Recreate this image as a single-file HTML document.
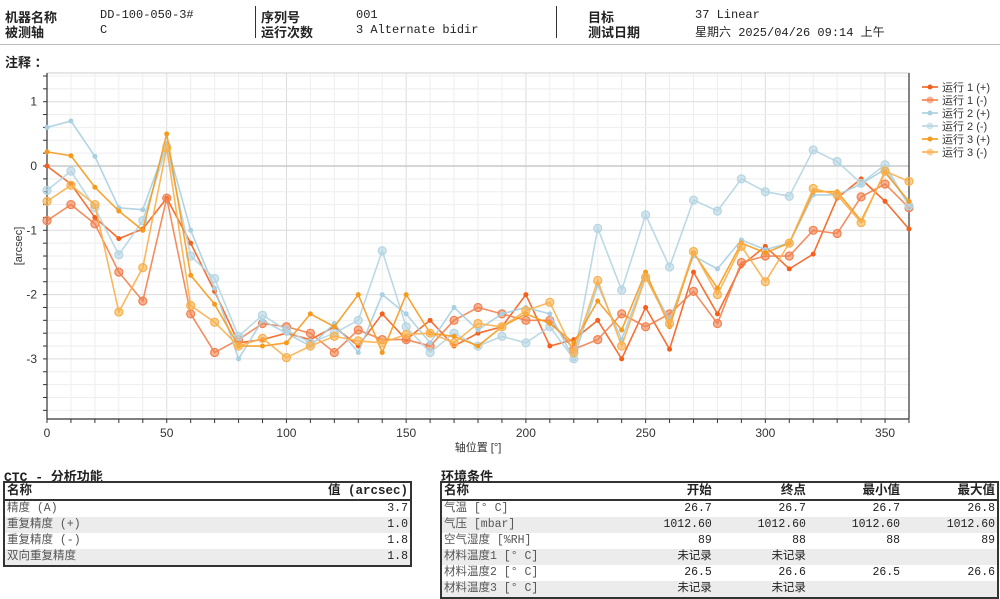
<!DOCTYPE html>
<html><head><meta charset="utf-8"><style>
body{margin:0;width:1000px;height:599px;background:#fff;font-family:"Liberation Mono","Noto Sans CJK SC",monospace;font-size:12px;color:#222;position:relative;overflow:hidden}
.a{position:absolute;white-space:nowrap}
.b{font-family:"Liberation Sans","Noto Sans CJK SC",sans-serif;font-weight:bold;font-size:13px}
table{position:absolute;border-collapse:collapse;border:2px solid #333;font-size:11.5px}
td{padding:0 2px;height:16px;line-height:16px}
td.r{text-align:right}
tr.h td{font-family:"Liberation Mono","Noto Sans CJK SC",monospace;font-weight:bold;border-bottom:2px solid #333;height:15px;font-size:12.5px}
tr.g td{background:#ececec}
tr.d td{color:#555}
table td.r,table tr.d td.r{color:#222}
</style></head><body>
<div class="a b" style="left:5px;top:7px">机器名称</div>
<div class="a" style="left:100px;top:8px">DD-100-050-3#</div>
<div class="a b" style="left:5px;top:22px">被测轴</div>
<div class="a" style="left:100px;top:23px">C</div>
<div class="a" style="left:255px;top:6px;width:1px;height:32px;background:#333"></div>
<div class="a b" style="left:261px;top:7px">序列号</div>
<div class="a" style="left:356px;top:8px">001</div>
<div class="a b" style="left:261px;top:22px">运行次数</div>
<div class="a" style="left:356px;top:23px">3 Alternate bidir</div>
<div class="a" style="left:556px;top:6px;width:1px;height:32px;background:#333"></div>
<div class="a b" style="left:588px;top:7px">目标</div>
<div class="a" style="left:695px;top:8px">37 Linear</div>
<div class="a b" style="left:588px;top:22px">测试日期</div>
<div class="a" style="left:695px;top:23px">星期六 2025/04/26 09:14 上午</div>
<div class="a" style="left:0;top:44px;width:1000px;height:1px;background:#bbb"></div>
<div class="a b" style="left:5px;top:52px">注释 ：</div>

<svg id="chart" class="a" style="left:0;top:60px" width="1000" height="400" viewBox="0 60 1000 400"></svg>

<div class="a b" style="left:4px;top:466px;font-family:'Liberation Mono','Noto Sans CJK SC',monospace">CTC - 分析功能</div>
<table style="left:3px;top:481px;width:409px">
<tr class="h"><td>名称</td><td class="r">值 (arcsec)</td></tr>
<tr class="d"><td>精度 (A)</td><td class="r">3.7</td></tr>
<tr class="d g"><td>重复精度 (+)</td><td class="r">1.0</td></tr>
<tr class="d"><td>重复精度 (-)</td><td class="r">1.8</td></tr>
<tr class="d g"><td>双向重复精度</td><td class="r">1.8</td></tr>
</table>
<div class="a b" style="left:441px;top:466px">环境条件</div>
<table style="left:440px;top:481px;width:559px">
<tr class="h"><td>名称</td><td class="r">开始</td><td class="r">终点</td><td class="r">最小值</td><td class="r">最大值</td></tr>
<tr class="d"><td>气温 [° C]</td><td class="r">26.7</td><td class="r">26.7</td><td class="r">26.7</td><td class="r">26.8</td></tr>
<tr class="d g"><td>气压 [mbar]</td><td class="r">1012.60</td><td class="r">1012.60</td><td class="r">1012.60</td><td class="r">1012.60</td></tr>
<tr class="d"><td>空气湿度 [%RH]</td><td class="r">89</td><td class="r">88</td><td class="r">88</td><td class="r">89</td></tr>
<tr class="d g"><td>材料温度1 [° C]</td><td class="r">未记录</td><td class="r">未记录</td><td></td><td></td></tr>
<tr class="d"><td>材料温度2 [° C]</td><td class="r">26.5</td><td class="r">26.6</td><td class="r">26.5</td><td class="r">26.6</td></tr>
<tr class="d g"><td>材料温度3 [° C]</td><td class="r">未记录</td><td class="r">未记录</td><td></td><td></td></tr>
</table>

<script>
const positions=[0,10,20,30,40,50,60,70,80,90,100,110,120,130,140,150,160,170,180,190,200,210,220,230,240,250,260,270,280,290,300,310,320,330,340,350,360];
const run1Plus=[0,-0.28,-0.8,-1.13,-0.98,-0.5,-1.2,-1.95,-2.75,-2.7,-2.6,-2.7,-2.5,-2.8,-2.3,-2.7,-2.4,-2.8,-2.6,-2.5,-2.0,-2.8,-2.7,-2.4,-3.0,-2.2,-2.85,-1.65,-2.3,-1.55,-1.25,-1.6,-1.37,-0.5,-0.2,-0.55,-0.98];
const run1Minus=[-0.85,-0.6,-0.9,-1.65,-2.1,-0.5,-2.3,-2.9,-2.7,-2.45,-2.5,-2.6,-2.9,-2.55,-2.7,-2.7,-2.8,-2.4,-2.2,-2.3,-2.4,-2.4,-2.85,-2.7,-2.3,-2.5,-2.3,-1.95,-2.45,-1.5,-1.4,-1.4,-1.0,-1.05,-0.48,-0.28,-0.65];
const run2Plus=[0.6,0.7,0.15,-0.65,-0.68,0.35,-1.0,-1.9,-3.0,-2.4,-2.6,-2.8,-2.45,-2.9,-2.0,-2.3,-2.75,-2.2,-2.55,-2.3,-2.2,-2.3,-3.0,-1.85,-2.7,-1.7,-2.4,-1.4,-1.6,-1.15,-1.3,-1.2,-0.45,-0.45,-0.28,-0.05,-0.6];
const run2Minus=[-0.38,-0.08,-0.65,-1.38,-0.85,0.3,-1.4,-1.75,-2.65,-2.32,-2.55,-2.75,-2.6,-2.4,-1.32,-2.5,-2.9,-2.6,-2.8,-2.65,-2.75,-2.5,-3.0,-0.97,-1.93,-0.76,-1.57,-0.53,-0.7,-0.2,-0.4,-0.47,0.25,0.07,-0.27,0.02,-0.62];
const run3Plus=[0.22,0.16,-0.33,-0.7,-1.0,0.5,-1.7,-2.15,-2.8,-2.8,-2.75,-2.3,-2.5,-2.0,-2.9,-2.0,-2.6,-2.65,-2.8,-2.5,-2.3,-2.45,-2.75,-2.1,-2.55,-1.65,-2.5,-1.35,-1.9,-1.2,-1.35,-1.2,-0.4,-0.4,-0.85,-0.1,-0.55];
const run3Minus=[-0.55,-0.3,-0.6,-2.27,-1.58,0.28,-2.17,-2.43,-2.8,-2.68,-2.98,-2.8,-2.65,-2.72,-2.75,-2.62,-2.6,-2.75,-2.45,-2.5,-2.25,-2.12,-2.9,-1.78,-2.8,-1.73,-2.45,-1.33,-2.0,-1.25,-1.8,-1.2,-0.35,-0.45,-0.88,-0.08,-0.24];
const xTickLabels=[0,50,100,150,200,250,300,350];
const yTickLabels=[1,0,-1,-2,-3];
const seriesNames=["运行 1 (+)","运行 1 (-)","运行 2 (+)","运行 2 (-)","运行 3 (+)","运行 3 (-)"];

const NS="http://www.w3.org/2000/svg";
const svg=document.getElementById('chart');
const L=47,R=909,T=73,B=419;
const xS=v=>L+(v-0)*(R-L)/360;
const yS=v=>166-v*64.3;
function mk(tag,at,parent){const e=document.createElementNS(NS,tag);for(const k in at)e.setAttribute(k,at[k]);(parent||svg).appendChild(e);return e;}
for(let d=0;d<=360;d+=10){
const g=mk('line',{x1:xS(d),x2:xS(d),y1:T,y2:B,stroke:(d%50==0?'#dcdcdc':'#eeeeee'),'stroke-width':1});


}
for(let i=-19;i<=7;i++){
const v=i/5;const y=yS(v);if(y<T||y>B)continue;
const col=(i==0)?'#c8c8c8':((i%5==0)?'#dcdcdc':'#eeeeee');
const g=mk('line',{x1:L,x2:R,y1:y,y2:y,stroke:col,'stroke-width':(i==0?1.5:1)});


const t=mk('line',{x1:L-4,x2:L,y1:y,y2:y,stroke:'#333'});


}
for(let d=0;d<=360;d+=10){
const t=mk('line',{x1:xS(d),x2:xS(d),y1:B,y2:B+4,stroke:'#333'});


}
const fr=mk('rect',{x:L,y:T,width:R-L,height:B-T,fill:'none',stroke:'#ccc'});


const ax=mk('path',{d:'M'+L+','+T+'V'+B+'H'+R,fill:'none',stroke:'#333','stroke-width':1.2});


const rb=mk('line',{x1:R,x2:R,y1:T,y2:B,stroke:'#333','stroke-width':1.2});


xTickLabels.forEach(v=>{
const t=mk('text',{x:xS(v),y:B+18,'text-anchor':'middle','font-size':12,'font-family':'Liberation Sans, sans-serif',fill:'#333'});t.textContent=v;


});
yTickLabels.forEach(v=>{
const t=mk('text',{x:L-10,y:yS(v)+4,'text-anchor':'end','font-size':12,'font-family':'Liberation Sans, sans-serif',fill:'#333'});t.textContent=v;


});
const xt=mk('text',{x:(L+R)/2,y:B+32,'text-anchor':'middle','font-size':11,'font-family':'Liberation Sans, Noto Sans CJK SC, sans-serif',fill:'#333'});xt.textContent='轴位置 [°]';


const yt=mk('text',{x:0,y:0,'text-anchor':'middle','font-size':11,'font-family':'Liberation Sans, sans-serif',fill:'#333',transform:'translate(22,'+((T+B)/2)+') rotate(-90)'});yt.textContent='[arcsec]';


const series=[run1Plus,run1Minus,run2Plus,run2Minus,run3Plus,run3Minus];
const colors=['#f4601c','#f2814f','#a9cfe0','#b5d5e2','#f59a1c','#f8b04c'];
const big=[false,true,false,true,false,true];
series.forEach((s,si)=>{
 const g=mk('g',{});
 
 
 const p=mk('polyline',{points:s.map((v,i)=>xS(positions[i])+','+yS(v)).join(' '),fill:'none',stroke:colors[si],'stroke-width':1.6,'stroke-opacity':0.9},g);
 
 
 s.forEach((v,i)=>{
 const c=mk('circle',{cx:xS(positions[i]),cy:yS(v),r:(big[si]?4:2.5),fill:colors[si],'fill-opacity':(big[si]?0.6:1),stroke:colors[si],'stroke-width':(big[si]?1.2:0)},g);
 
 
 });
});
seriesNames.forEach((n,i)=>{
const y=87+i*13;const g=mk('g',{});


mk('line',{x1:922,x2:938,y1:y,y2:y,stroke:colors[i],'stroke-width':1.6},g);
mk('circle',{cx:930,cy:y,r:(big[i]?3.5:2.5),fill:colors[i],'fill-opacity':(big[i]?0.6:1)},g);
const t=mk('text',{x:942,y:y+4,'font-size':11,'font-family':'Liberation Sans, Noto Sans CJK SC, sans-serif',fill:'#333'},g);t.textContent=n;
});
</script>
</body></html>
